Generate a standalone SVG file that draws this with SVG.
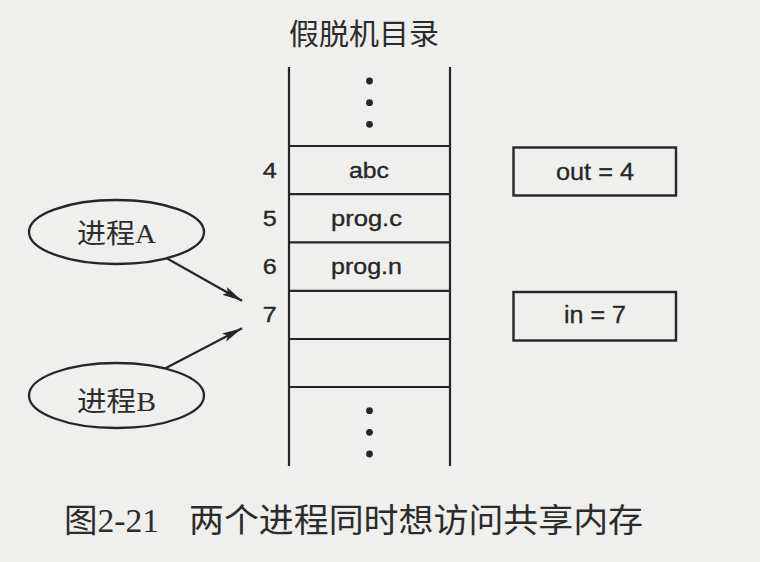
<svg xmlns="http://www.w3.org/2000/svg" width="760" height="562" viewBox="0 0 760 562">
  <style>
    .line { stroke: #262626; stroke-width: 2.2; fill: none; }
    .box { stroke: #262626; stroke-width: 2.4; fill: none; }
    .oval { stroke: #262626; stroke-width: 2.3; fill: none; }
    .dot { fill: #262626; }
    .lat { font-family: "Liberation Sans", Arial, sans-serif; font-size: 21.5px; fill: #272727; stroke: #272727; stroke-width: 0.35; }
    .num { font-family: "Liberation Sans", Arial, sans-serif; font-size: 22px; fill: #272727; stroke: #272727; stroke-width: 0.35; text-anchor: middle; }
    .var { font-family: "Liberation Sans", Arial, sans-serif; font-size: 23px; fill: #272727; stroke: #272727; stroke-width: 0.3; }
    .title { font-family: "Noto Sans CJK SC", sans-serif; font-size: 29px; fill: #2c2c2c; }
    .proc { font-family: "Liberation Serif", "Noto Sans CJK SC", serif; font-size: 27px; fill: #2c2c2c; }
    .cap { font-family: "Liberation Serif", "Noto Sans CJK SC", serif; font-size: 33px; fill: #2c2c2c; }
  </style>
  <defs>
    <marker id="arrow" viewBox="0 0 20 10" refX="20" refY="5" markerWidth="20" markerHeight="10" markerUnits="userSpaceOnUse" orient="auto">
      <path d="M0,0.5 L20,5 L0,9.5 L4,5 Z" fill="#262626"/>
    </marker>
  </defs>

  <rect x="0" y="0" width="760" height="562" fill="#efefed"/>

  <!-- spooler directory -->
  <g id="spool-dir">
    <text class="title" x="289" y="45" textLength="150" lengthAdjust="spacingAndGlyphs">假脱机目录</text>
    <line class="line" x1="289" y1="67" x2="289" y2="466"/>
    <line class="line" x1="450" y1="67" x2="450" y2="466"/>
    <line class="line" x1="289" y1="146" x2="450" y2="146"/>
    <line class="line" x1="289" y1="194.2" x2="450" y2="194.2"/>
    <line class="line" x1="289" y1="242.4" x2="450" y2="242.4"/>
    <line class="line" x1="289" y1="290.8" x2="450" y2="290.8"/>
    <line class="line" x1="289" y1="339" x2="450" y2="339"/>
    <line class="line" x1="289" y1="387" x2="450" y2="387"/>
    <circle class="dot" cx="369.5" cy="81" r="3.4"/>
    <circle class="dot" cx="369.5" cy="102.7" r="3.4"/>
    <circle class="dot" cx="369.5" cy="124.3" r="3.4"/>
    <circle class="dot" cx="369.5" cy="410.7" r="3.4"/>
    <circle class="dot" cx="369.5" cy="432.3" r="3.4"/>
    <circle class="dot" cx="369.5" cy="454" r="3.4"/>
    <text class="num" x="269.7" y="178" textLength="14" lengthAdjust="spacingAndGlyphs">4</text>
    <text class="num" x="269.7" y="226.2" textLength="14" lengthAdjust="spacingAndGlyphs">5</text>
    <text class="num" x="269.7" y="273.8" textLength="14" lengthAdjust="spacingAndGlyphs">6</text>
    <text class="num" x="269.7" y="322" textLength="14" lengthAdjust="spacingAndGlyphs">7</text>
    <text class="lat" x="349" y="178" textLength="40" lengthAdjust="spacingAndGlyphs">abc</text>
    <text class="lat" x="331" y="225.5" textLength="71" lengthAdjust="spacingAndGlyphs">prog.c</text>
    <text class="lat" x="331" y="274" textLength="71" lengthAdjust="spacingAndGlyphs">prog.n</text>
  </g>

  <!-- shared variables -->
  <g id="out-var">
    <rect class="box" x="513.5" y="147.5" width="162.5" height="48"/>
    <text class="var" x="556" y="180" textLength="78" lengthAdjust="spacingAndGlyphs">out = 4</text>
  </g>
  <g id="in-var">
    <rect class="box" x="513.5" y="292" width="162.5" height="48.5"/>
    <text class="var" x="564" y="323" textLength="62" lengthAdjust="spacingAndGlyphs">in = 7</text>
  </g>

  <!-- processes -->
  <g id="process-a">
    <ellipse class="oval" cx="116.5" cy="232" rx="87.5" ry="32"/>
    <text class="proc" x="77" y="242.5" textLength="79" lengthAdjust="spacingAndGlyphs">进程A</text>
  </g>
  <g id="process-b">
    <ellipse class="oval" cx="116.5" cy="395.5" rx="87.5" ry="32.5"/>
    <text class="proc" x="77" y="410.5" textLength="79" lengthAdjust="spacingAndGlyphs">进程B</text>
  </g>

  <!-- connectors -->
  <g id="connectors">
    <line class="line" x1="166.7" y1="258.3" x2="242" y2="300.7" marker-end="url(#arrow)"/>
    <line class="line" x1="165" y1="368.4" x2="242" y2="328.3" marker-end="url(#arrow)"/>
  </g>

  <!-- figure caption -->
  <g id="caption">
    <text class="cap" x="64" y="532" textLength="95" lengthAdjust="spacingAndGlyphs">图2-21</text>
    <text class="cap" x="189" y="532" textLength="454" lengthAdjust="spacingAndGlyphs">两个进程同时想访问共享内存</text>
  </g>
</svg>
